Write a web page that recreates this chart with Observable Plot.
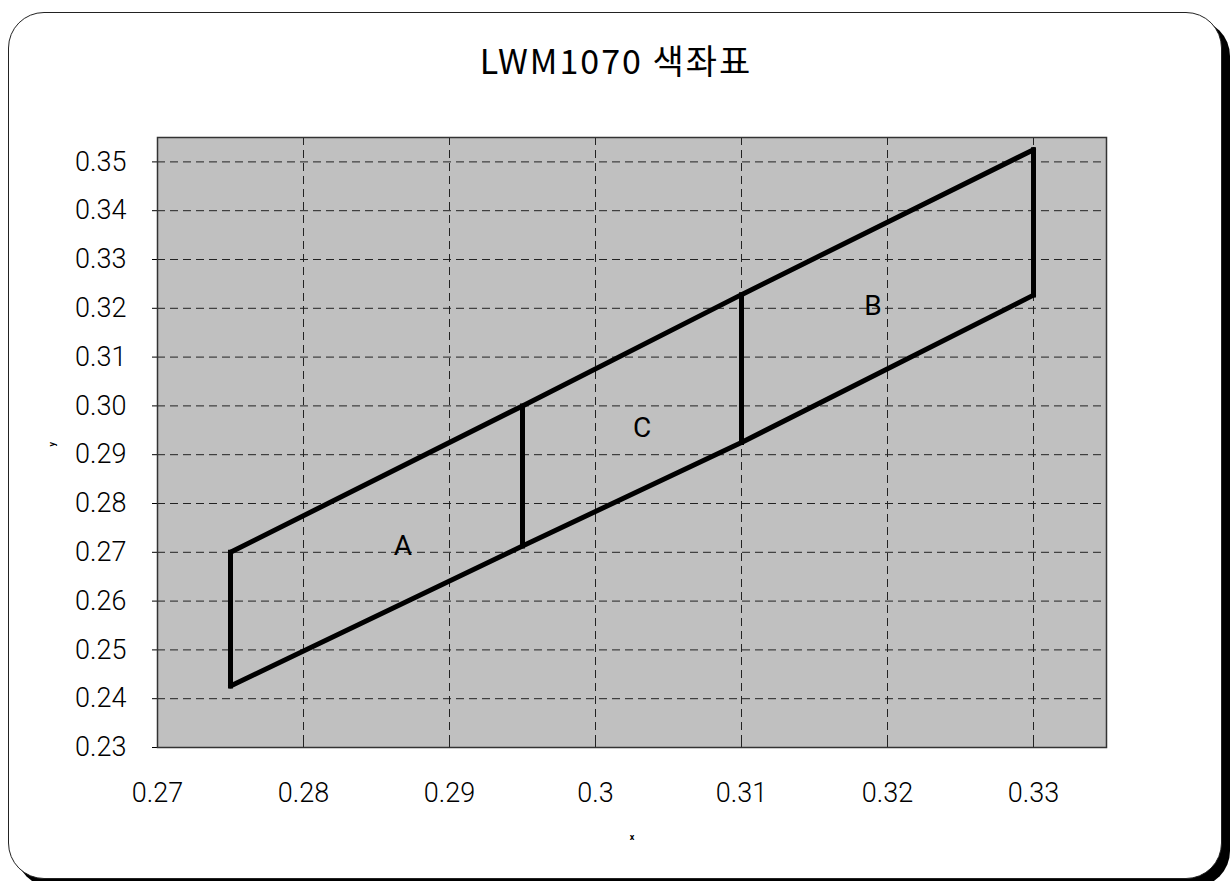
<!DOCTYPE html>
<html>
<head>
<meta charset="utf-8">
<script src="https://cdn.jsdelivr.net/npm/d3@7"></script>
<script src="https://cdn.jsdelivr.net/npm/@observablehq/plot@0.6"></script>
<style>
  html, body { margin: 0; padding: 0; background: #fff; width: 1232px; height: 881px; overflow: hidden; }
  #frame { position: absolute; left: 8px; top: 12px; width: 1212px; height: 865px; border: 1.5px solid #222; border-radius: 36px; box-shadow: 8px 8px 0 #000; background: #fff; }
  #title { position: absolute; left: 0; top: 40px; width: 1232px; text-align: center; font-family: "Noto Sans CJK KR", sans-serif; font-weight: 400; font-size: 34px; line-height: 40px; letter-spacing: 2px; color: #000; }
  #chart { position: absolute; left: 0; top: 0; }
</style>
</head>
<body>
<div id="frame"></div>
<div id="title">LWM1070 색좌표</div>
<div id="chart"></div>
<script>
// Data
const xTicks = [0.27, 0.28, 0.29, 0.30, 0.31, 0.32, 0.33];
const yTicks = [0.23, 0.24, 0.25, 0.26, 0.27, 0.28, 0.29, 0.30, 0.31, 0.32, 0.33, 0.34, 0.35];
const boundaryX = [0.275, 0.295, 0.31, 0.33];
const upperY = [0.27, 0.30, 0.3228, 0.3525];
const lowerY = [0.2426, 0.2713, 0.2925, 0.3227];
const regionNames = ["A", "C", "B"];
const regionX = [0.2868, 0.3032, 0.3190];
const regionY = [0.2713, 0.2955, 0.3205];

const upper = boundaryX.map((x, i) => ({x, y: upperY[i]}));
const lower = boundaryX.map((x, i) => ({x, y: lowerY[i]}));
const verticals = boundaryX.map((x, i) => ({x, y1: lowerY[i], y2: upperY[i]}));
const regions = regionNames.map((name, i) => ({name, x: regionX[i], y: regionY[i]}));

const W = 1232, H = 881, mT = 137, mB = 134, mL = 157, mR = 126;
const dash = "8,5";

const chart = Plot.plot({
  width: W,
  height: H,
  marginTop: mT,
  marginBottom: mB,
  marginLeft: mL,
  marginRight: mR,
  style: {fontFamily: "Roboto, Liberation Sans, sans-serif", fontWeight: 300, fontSize: "27px", background: "transparent", color: "#000"},
  x: {domain: [0.27, 0.335]},
  y: {domain: [0.23, 0.355]},
  marks: [
    Plot.frame({fill: "#c0c0c0"}),
    Plot.gridX(xTicks, {stroke: "#222", strokeOpacity: 1, strokeWidth: 1, strokeDasharray: dash}),
    Plot.gridY(yTicks, {stroke: "#222", strokeOpacity: 1, strokeWidth: 1, strokeDasharray: dash}),
    Plot.ruleX(xTicks, {stroke: "#222", insetTop: H - mT - mB - 6}),
    Plot.axisX(xTicks, {tickSize: 0, tickPadding: 35, fontSize: 27, fontWeight: 300, label: null, tickFormat: d => String(+d.toFixed(2))}),
    Plot.axisY(yTicks, {tickSize: 5, tickPadding: 26, fontSize: 27, fontWeight: 300, label: null, tickFormat: d3.format(".2f")}),
    Plot.text(["x"], {frameAnchor: "bottom", dy: 92, fontSize: 9, fontWeight: "bold"}),
    Plot.text(["y"], {frameAnchor: "left", dx: -105, dy: 4, fontSize: 9, fontWeight: "bold", rotate: -90}),
    Plot.frame({stroke: "#333", strokeWidth: 1.5}),
    Plot.line(upper, {x: "x", y: "y", stroke: "#000", strokeWidth: 5, strokeLinejoin: "miter"}),
    Plot.line(lower, {x: "x", y: "y", stroke: "#000", strokeWidth: 5, strokeLinejoin: "miter"}),
    Plot.link(verticals, {x1: "x", x2: "x", y1: "y1", y2: "y2", stroke: "#000", strokeWidth: 5, strokeLinecap: "square"}),
    Plot.text(regions, {x: "x", y: "y", text: "name", fontSize: 28, fontWeight: 400, fill: "#000"})
  ]
});
document.getElementById("chart").appendChild(chart);
</script>
</body>
</html>
